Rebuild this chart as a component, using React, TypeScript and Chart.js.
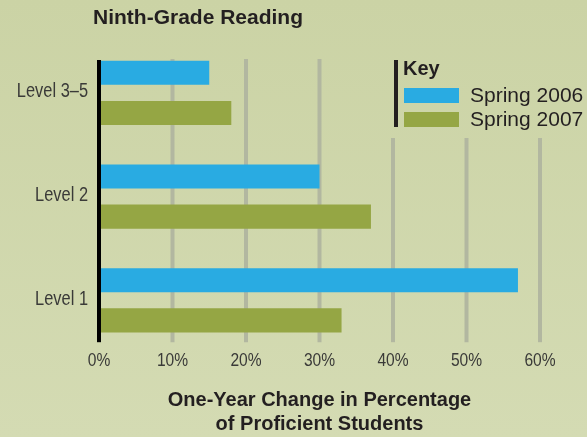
import React, { useEffect, useRef } from 'react';
import { Chart, registerables } from 'chart.js';

Chart.register(...registerables);

const chartTitle = 'Ninth-Grade Reading';
const categories = ['Level 3–5', 'Level 2', 'Level 1'];
const seriesNames = ['Spring 2006', 'Spring 2007'];
const spring2006 = [15, 30, 57];
const spring2007 = [18, 37, 33];
const xTicks = [0, 10, 20, 30, 40, 50, 60];
const axisTitle = ['One-Year Change in Percentage', 'of Proficient Students'];
const legendTitle = 'Key';

const BLUE = '#29abe2';
const GREEN = '#95a644';
const GRID = '#b2b7a0';
const TEXT = '#231f20';
const TICK = '#3a3a38';
const SANS = "'Liberation Sans', Arial, sans-serif";

function drawNarrow(ctx: CanvasRenderingContext2D, text: string, x: number, y: number, align: CanvasTextAlign) {
  ctx.save();
  ctx.translate(x, y);
  ctx.scale(0.82, 1);
  ctx.textAlign = align;
  ctx.textBaseline = 'middle';
  ctx.fillText(text, 0, 0);
  ctx.restore();
}

const decor = {
  id: 'decor',
  beforeDatasetsDraw(chart: any) {
    const { ctx, chartArea, scales } = chart;
    const x = scales.x;
    const top = chartArea.top + 18;
    const bottom = chartArea.bottom - 10;
    const legendLeft = chartArea.left + 290;
    const legendBottom = chartArea.top + 97;
    ctx.save();
    ctx.strokeStyle = GRID;
    ctx.lineWidth = 4;
    xTicks.forEach((v) => {
      if (v === 0) return;
      const px = x.getPixelForValue(v);
      const t = px >= legendLeft ? legendBottom : top;
      ctx.beginPath();
      ctx.moveTo(px, t);
      ctx.lineTo(px, bottom);
      ctx.stroke();
    });
    ctx.restore();
  },
  afterDatasetsDraw(chart: any) {
    const { ctx, chartArea, scales } = chart;
    const x = scales.x;
    const px = x.getPixelForValue(0);
    ctx.save();
    ctx.fillStyle = '#000000';
    ctx.fillRect(px - 2, chartArea.top + 19, 4, chartArea.bottom - 10 - (chartArea.top + 19));
    ctx.restore();
  },
  afterDraw(chart: any) {
    const { ctx, chartArea, scales } = chart;
    const x = scales.x;
    const y = scales.y;
    ctx.save();
    // tick labels (condensed)
    ctx.fillStyle = TICK;
    ctx.font = `20px ${SANS}`;
    categories.forEach((c, i) => {
      drawNarrow(ctx, c, chartArea.left - 11, y.getPixelForValue(i) - 1, 'right');
    });
    ctx.font = `19px ${SANS}`;
    xTicks.forEach((v) => {
      drawNarrow(ctx, `${v}%`, x.getPixelForValue(v), chartArea.bottom + 9, 'center');
    });
    // title
    ctx.fillStyle = TEXT;
    ctx.font = `bold 21px ${SANS}`;
    ctx.textAlign = 'left';
    ctx.textBaseline = 'alphabetic';
    ctx.fillText(chartTitle, 93, 24);
    // legend
    const lx = chartArea.left + 295;
    const ly = chartArea.top + 19;
    ctx.fillStyle = TEXT;
    ctx.fillRect(lx, ly, 4, 67);
    ctx.font = `bold 20px ${SANS}`;
    ctx.fillText(legendTitle, lx + 9, ly + 15);
    const colors = [BLUE, GREEN];
    seriesNames.forEach((name, i) => {
      const by = ly + 28 + i * 24;
      ctx.fillStyle = colors[i];
      ctx.fillRect(lx + 10, by, 55, 15);
      ctx.fillStyle = TEXT;
      ctx.font = `21px ${SANS}`;
      ctx.textBaseline = 'middle';
      ctx.fillText(name, lx + 76, by + 8);
      ctx.textBaseline = 'alphabetic';
    });
    ctx.restore();
  },
};

export default function App() {
  const ref = useRef<HTMLCanvasElement | null>(null);
  useEffect(() => {
    if (!ref.current) return;
    const chart = new Chart(ref.current, {
      type: 'bar',
      data: {
        labels: categories,
        datasets: [
          { label: seriesNames[0], data: spring2006, backgroundColor: BLUE, barPercentage: 0.6, categoryPercentage: 0.773 },
          { label: seriesNames[1], data: spring2007, backgroundColor: GREEN, barPercentage: 0.6, categoryPercentage: 0.773 },
        ],
      },
      options: {
        indexAxis: 'y',
        responsive: false,
        animation: false,
        devicePixelRatio: 1,
        layout: { padding: { top: 41, right: 47, bottom: 0, left: 0 } },
        plugins: { legend: { display: false }, tooltip: { enabled: false }, title: { display: false } },
        scales: {
          x: {
            min: 0,
            max: 60,
            afterBuildTicks: (s: any) => { s.ticks = xTicks.map((v) => ({ value: v })); },
            grid: { display: false, drawTicks: false },
            border: { display: false },
            ticks: {
              padding: -4,
              color: 'rgba(0,0,0,0)',
              font: { family: SANS, size: 19 },
              callback: (v: any) => `${v}%`,
            },
            title: {
              display: true,
              text: axisTitle,
              color: TEXT,
              font: { family: SANS, size: 20, weight: 'bold', lineHeight: 1.2 },
              padding: { top: 21, bottom: 1 },
            },
          },
          y: {
            afterFit: (s: any) => { s.width = 99; },
            grid: { display: false, drawTicks: false },
            border: { display: false },
            ticks: { display: false },
          },
        },
      },
      plugins: [decor],
    });
    return () => chart.destroy();
  }, []);
  return (
    <div style={{ position: 'absolute', left: 0, top: 0, width: 587, height: 437, background: 'linear-gradient(#cbd3a5, #d4dbb3)' }}>
      <canvas ref={ref} width={587} height={437} style={{ display: 'block' }} />
    </div>
  );
}
